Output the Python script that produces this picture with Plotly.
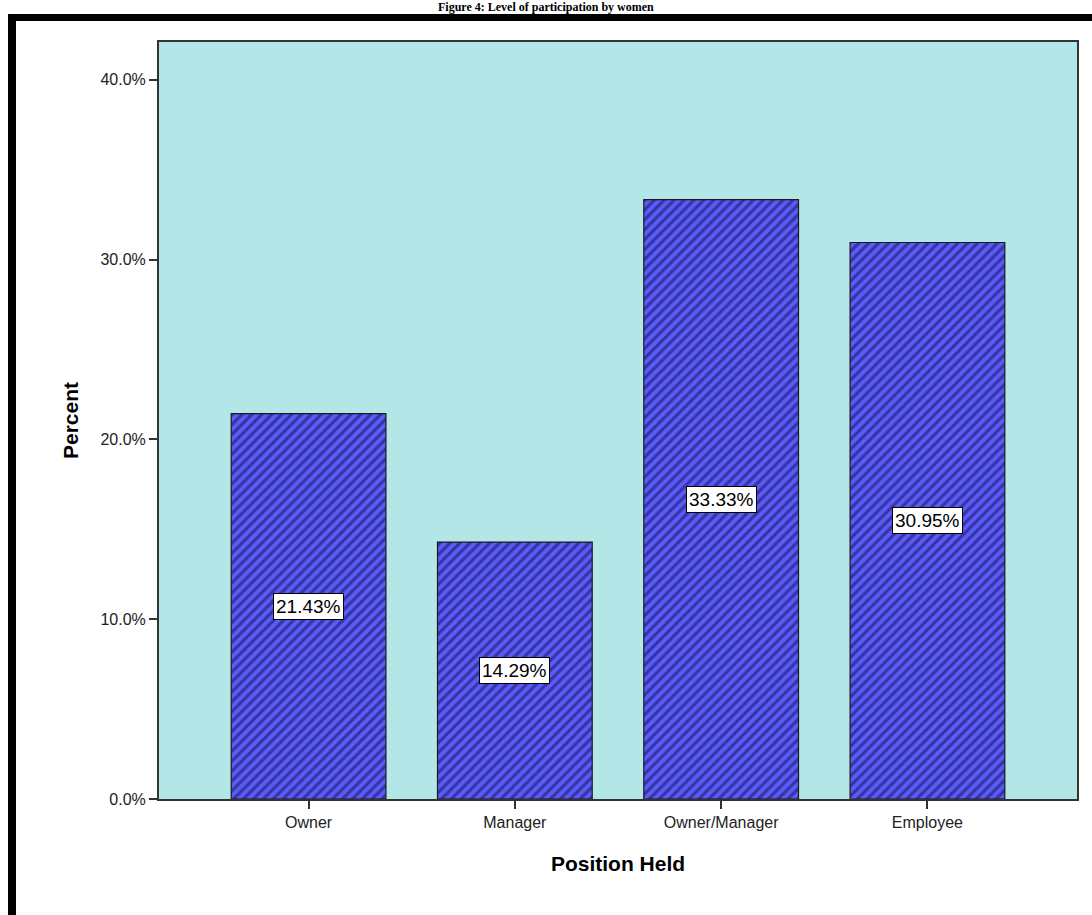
import plotly.graph_objects as go

# Share of women by position held
positions = ["Owner", "Manager", "Owner/Manager", "Employee"]
percents = [21.43, 14.29, 33.33, 30.95]
y_ticks = [0, 10, 20, 30, 40]
y_tick_labels = ["0.0%", "10.0%", "20.0%", "30.0%", "40.0%"]

W, H = 1092, 915
L, R, T, B = 159, 1077, 42, 799

fig = go.Figure()
fig.add_trace(go.Bar(
    x=positions,
    y=percents,
    width=0.75,
    marker=dict(
        color="#5a5aff",
        line=dict(color="#1a1a1a", width=1.2),
        pattern=dict(shape="/", fgcolor="#10103a", bgcolor="#5a5aff",
                     size=7, solidity=0.45),
    ),
    hoverinfo="skip",
))

# value labels in white boxes at mid-height of each bar
for pos, val in zip(positions, percents):
    fig.add_annotation(
        x=pos, y=val / 2, text=f"{val:.2f}%", showarrow=False,
        font=dict(family="Arial, Liberation Sans", size=19, color="black"),
        bgcolor="white", bordercolor="black", borderwidth=1, borderpad=2,
    )

def px_x(p):
    return (p - L) / (R - L)

def px_y(p):
    return (B - p) / (B - T)

# outer frame (top and left edges)
fig.add_shape(type="line", xref="paper", yref="paper",
              x0=px_x(8), x1=px_x(W + 5), y0=px_y(17.5), y1=px_y(17.5),
              line=dict(color="black", width=7))
fig.add_shape(type="line", xref="paper", yref="paper",
              x0=px_x(12), x1=px_x(12), y0=px_y(14), y1=px_y(H + 5),
              line=dict(color="black", width=8))

# figure caption above the frame
fig.add_annotation(
    xref="paper", yref="paper", x=px_x(546), y=px_y(7),
    text="<b>Figure 4: Level of participation by women</b>", showarrow=False,
    font=dict(family="Liberation Serif, Times New Roman", size=12, color="black"),
    xanchor="center", yanchor="middle", borderpad=0,
)

fig.update_layout(
    width=W, height=H,
    margin=dict(l=L, r=W - R, t=T, b=H - B, pad=0),
    paper_bgcolor="white",
    plot_bgcolor="#b3e6e6",
    showlegend=False,
    font=dict(family="Arial, Liberation Sans", size=16, color="#222222"),
    xaxis=dict(
        range=[-0.725, 3.725],
        showgrid=False, zeroline=False,
        showline=True, linecolor="#333333", linewidth=2, mirror=True,
        ticks="outside", ticklen=8, tickcolor="#333333", tickwidth=1.5,
        tickfont=dict(size=16, color="#222222"),
        title=dict(text="<b>Position Held</b>",
                   font=dict(size=21, color="black"), standoff=26),
    ),
    yaxis=dict(
        range=[0, 42.1],
        tickvals=y_ticks, ticktext=y_tick_labels,
        showgrid=False, zeroline=False,
        showline=True, linecolor="#333333", linewidth=2, mirror=True,
        ticks="outside", ticklen=8, tickcolor="#333333", tickwidth=1.5,
        tickfont=dict(size=16, color="#222222"),
        title=dict(text="<b>Percent</b>",
                   font=dict(size=21, color="black"), standoff=16),
    ),
)

fig.write_html("out.html")
